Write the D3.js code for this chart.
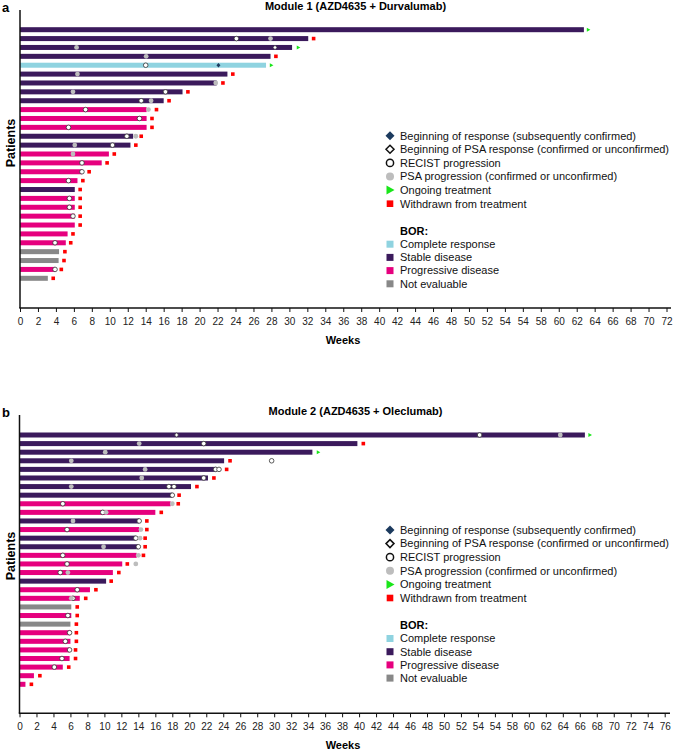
<!DOCTYPE html>
<html><head><meta charset="utf-8">
<script src="https://cdn.jsdelivr.net/npm/d3@7"></script>
<style>
body{margin:0;background:#fff;}
svg{display:block;font-family:"Liberation Sans",Arial,Helvetica,sans-serif;}
</style></head><body><svg id="chart" width="676" height="750"></svg>
<script>
// ---------------- DATA ----------------
const borCategories = ["CR", "SD", "PD", "NE"];
const borLabels = ["Complete response", "Stable disease", "Progressive disease", "Not evaluable"];
const eventLabels = [
  "Beginning of response (subsequently confirmed)",
  "Beginning of PSA response (confirmed or unconfirmed)",
  "RECIST progression",
  "PSA progression (confirmed or unconfirmed)",
  "Ongoing treatment",
  "Withdrawn from treatment"
];

// Module 1 (AZD4635 + Durvalumab)
const m1Title = "Module 1 (AZD4635 + Durvalumab)";
const m1Bor = ["SD","SD","SD","SD","CR","SD","SD","SD","SD","PD","PD","PD","SD","SD","PD","PD","PD","PD","SD","PD","PD","PD","PD","PD","PD","NE","NE","PD","NE"];
const m1Duration = [62.8,32.1,30.3,27.9,27.4,23.1,21.9,18.1,16.0,14.1,14.1,14.1,12.6,12.3,9.9,9.1,6.9,6.4,6.1,6.1,6.1,6.1,6.1,5.3,5.1,4.35,4.3,3.9,3.1];
const m1EndStatus = ["ongoing","withdrawn","ongoing","withdrawn","ongoing","withdrawn","withdrawn","withdrawn","withdrawn","withdrawn","withdrawn","withdrawn","withdrawn","withdrawn","withdrawn","withdrawn","withdrawn","withdrawn","withdrawn","withdrawn","withdrawn","withdrawn","withdrawn","withdrawn","withdrawn","withdrawn","withdrawn","withdrawn","withdrawn"];
const m1EndWeek = [63.3,32.7,31.0,28.5,28.0,23.7,22.6,18.7,16.6,15.2,14.7,14.7,13.5,12.9,10.5,9.7,7.7,7.0,6.7,6.7,6.7,6.7,6.7,5.9,5.65,5.0,4.9,4.6,3.7];
const m1Recist = [[2,24.1],[5,14.0],[8,16.2],[9,13.5],[10,7.3],[11,13.3],[12,5.4],[13,11.9],[14,10.3],[16,6.9],[17,6.9],[18,5.4],[20,5.5],[21,5.5],[22,5.9],[25,3.9],[28,3.9]];
const m1PsaProg = [[2,27.9],[3,6.3],[4,14.05],[6,6.4],[7,21.8],[8,5.9],[9,14.6],[10,14.3],[13,12.9],[14,6.1],[15,5.9]];
const m1PsaResp = [[3,28.4]];
const m1Response = [[5,22.1]];
const m1TickValues = [0,2,4,6,8,10,12,14,16,18,20,22,24,26,28,30,32,34,36,38,40,42,44,46,48,50,52,54,56,58,60,62,64,66,68,70,72];
const m1TickLabels = ["0","2","4","6","8","10","12","14","16","18","20","22","24","26","28","30","32","34","36","38","40","42","44","46","48","50","52","54","54","58","60","62","64","66","68","70","72"];

// Module 2 (AZD4635 + Oleclumab)
const m2Title = "Module 2 (AZD4635 + Oleclumab)";
const m2Bor = ["SD","SD","SD","SD","SD","SD","SD","SD","PD","PD","SD","PD","SD","SD","PD","PD","PD","SD","PD","PD","NE","PD","NE","PD","PD","PD","PD","PD","PD","PD"];
const m2Duration = [66.6,39.8,34.5,24.1,23.2,22.2,20.2,18.0,17.8,16.0,14.1,14.1,13.7,14.0,13.8,12.1,11.0,10.2,8.3,7.1,6.1,6.1,6.0,6.0,6.0,5.9,5.9,5.1,1.7,0.7];
const m2EndStatus = ["ongoing","withdrawn","ongoing","withdrawn","withdrawn","withdrawn","withdrawn","withdrawn","withdrawn","withdrawn","withdrawn","withdrawn","withdrawn","withdrawn","withdrawn","withdrawn","withdrawn","withdrawn","withdrawn","withdrawn","withdrawn","withdrawn","withdrawn","withdrawn","withdrawn","withdrawn","withdrawn","withdrawn","withdrawn","withdrawn"];
const m2EndWeek = [67.2,40.5,35.2,24.8,24.4,22.9,20.9,18.8,18.7,16.7,15.0,15.0,14.8,14.8,14.6,12.7,11.7,10.8,9.0,7.8,6.8,6.8,6.7,6.7,6.7,6.6,6.6,5.8,2.4,1.4];
const m2Recist = [[1,54.2],[2,21.7],[4,29.7],[5,23.1],[5,23.5],[6,21.7],[7,17.6],[7,18.2],[8,18.0],[9,5.1],[10,9.8],[11,14.1],[12,5.6],[13,13.7],[14,14.0],[15,5.1],[16,5.6],[17,4.8],[19,6.8],[20,6.3],[22,5.7],[24,5.9],[25,5.4],[26,5.9],[27,5.0],[28,4.1]];
const m2PsaProg = [[1,63.7],[2,14.1],[3,10.1],[4,6.1],[5,14.8],[6,14.4],[7,6.1],[9,18.0],[10,10.2],[11,6.3],[12,14.3],[13,14.2],[14,9.9],[15,14.0],[16,13.7],[17,5.7],[20,6.1]];
const m2PsaResp = [[1,18.5]];
const m2Response = [];
const m2TickValues = [0,2,4,6,8,10,12,14,16,18,20,22,24,26,28,30,32,34,36,38,40,42,44,46,48,50,52,54,56,58,60,62,64,66,68,70,72,74,76];
const m2TickLabels = ["0","2","4","6","8","10","12","14","16","18","20","22","24","26","28","30","32","34","36","38","40","42","44","46","48","50","52","54","54","58","60","62","64","66","68","70","72","74","76"];

// ---------------- STYLE ----------------
const borColor = d3.scaleOrdinal().domain(borCategories).range(["#8fd3e0","#3b1a5c","#e6007e","#888888"]);
const C = {navy:"#1c3a5e", gray:"#bdbdbd", red:"#ff0000", green:"#19e619", ink:"#111"};

const svg = d3.select("#chart");

function panel(cfg) {
  const g = svg.append("g");
  const n = cfg.bor.length;
  const x = d3.scaleLinear().domain([0, cfg.xmax]).range([cfg.x0, cfg.x1]);
  const y = d3.scaleLinear().domain([1, n]).range([cfg.rowFirst, cfg.rowLast]);
  const rows = d3.range(n).map(i => ({row: i + 1, bor: cfg.bor[i], dur: cfg.dur[i], end: cfg.end[i], endW: cfg.endW[i]}));

  // panel letter + title
  g.append("text").attr("x", 2).attr("y", cfg.top + 1.8).attr("font-size", 13).attr("font-weight", "bold").text(cfg.letter);
  g.append("text").attr("x", cfg.titleX).attr("y", cfg.top - 0.5).attr("text-anchor", "middle")
    .attr("font-size", 11).attr("font-weight", "bold").text(cfg.title);

  // bars
  const bh = 5;
  g.selectAll("rect.bar").data(rows).join("rect").attr("class", "bar")
    .attr("x", x(0)).attr("y", d => y(d.row) - bh / 2)
    .attr("width", d => x(d.dur) - x(0)).attr("height", bh)
    .attr("fill", d => borColor(d.bor));

  // end markers
  const sq = 3.6;
  g.selectAll("rect.wd").data(rows.filter(d => d.end === "withdrawn")).join("rect").attr("class", "wd")
    .attr("x", d => x(d.endW) - sq / 2).attr("y", d => y(d.row) - sq / 2)
    .attr("width", sq).attr("height", sq).attr("fill", C.red);
  g.selectAll("path.og").data(rows.filter(d => d.end === "ongoing")).join("path").attr("class", "og")
    .attr("d", d => { const cx = x(d.endW), cy = y(d.row); return `M${cx - 1.6},${cy - 2}L${cx + 2},${cy}L${cx - 1.6},${cy + 2}Z`; })
    .attr("fill", C.green);

  // RECIST progression
  g.selectAll("circle.rc").data(cfg.recist).join("circle").attr("class", "rc")
    .attr("cx", d => x(d[1])).attr("cy", d => y(d[0])).attr("r", 2.3)
    .attr("fill", "#fff").attr("stroke", "#333").attr("stroke-width", 0.8);
  // PSA progression
  g.selectAll("circle.pp").data(cfg.psaProg).join("circle").attr("class", "pp")
    .attr("cx", d => x(d[1])).attr("cy", d => y(d[0])).attr("r", 2.4).attr("fill", C.gray);
  // PSA response (open diamond)
  g.selectAll("path.pr").data(cfg.psaResp).join("path").attr("class", "pr")
    .attr("d", d => { const cx = x(d[1]), cy = y(d[0]); return `M${cx},${cy - 2.3}L${cx + 2},${cy}L${cx},${cy + 2.3}L${cx - 2},${cy}Z`; })
    .attr("fill", "#fff").attr("stroke", "#333").attr("stroke-width", 0.7);
  // Response (filled diamond)
  g.selectAll("path.rs").data(cfg.response).join("path").attr("class", "rs")
    .attr("d", d => { const cx = x(d[1]), cy = y(d[0]); return `M${cx},${cy - 2.3}L${cx + 2},${cy}L${cx},${cy + 2.3}L${cx - 2},${cy}Z`; })
    .attr("fill", C.navy);

  // axes
  g.append("line").attr("x1", cfg.x0).attr("x2", cfg.x0).attr("y1", cfg.axisTop).attr("y2", cfg.axisY)
    .attr("stroke", C.ink).attr("stroke-width", 1.5);
  const ax = d3.axisBottom(x).tickValues(cfg.tickValues).tickFormat((d, i) => cfg.tickLabels[i])
    .tickSize(4).tickSizeOuter(0).tickPadding(6);
  const axg = g.append("g").attr("transform", `translate(0,${cfg.axisY})`).call(ax);
  axg.select(".domain").attr("stroke", C.ink).attr("stroke-width", 1.5)
    .attr("d", `M${cfg.x0 - 0.75},0H${cfg.axisEnd}`);
  axg.selectAll(".tick line").attr("stroke", C.ink).attr("stroke-width", 1);
  axg.selectAll(".tick text").attr("font-size", 10).attr("fill", "#222")
    .attr("font-family", '"Liberation Sans",Arial,sans-serif');

  g.append("text").attr("x", cfg.weeksX).attr("y", cfg.axisY + 36).attr("text-anchor", "middle")
    .attr("font-size", 11).attr("font-weight", "bold").text("Weeks");
  g.append("text").attr("transform", `translate(15,${cfg.patientsY}) rotate(-90)`).attr("text-anchor", "middle")
    .attr("font-size", 12.5).attr("font-weight", "bold").text("Patients");

  // legend
  const lx = 390, tx = 400, ly = cfg.legendY, step = 13.6;
  const lg = g.append("g");
  const ev = lg.selectAll("g.ev").data(eventLabels).join("g").attr("class", "ev")
    .attr("transform", (d, i) => `translate(${lx},${ly + i * step})`);
  ev.append("text").attr("x", tx - lx).attr("y", 0).attr("dy", "0.35em").attr("font-size", 11).attr("fill", "#111").text(d => d);
  ev.each(function (d, i) {
    const s = d3.select(this);
    if (i === 0) s.append("path").attr("d", "M0,-4.5L4.5,0L0,4.5L-4.5,0Z").attr("fill", C.navy);
    if (i === 1) s.append("path").attr("d", "M0,-4L4,0L0,4L-4,0Z").attr("fill", "#fff").attr("stroke", "#111").attr("stroke-width", 1.5);
    if (i === 2) s.append("circle").attr("r", 3.6).attr("fill", "#fff").attr("stroke", "#111").attr("stroke-width", 1.5);
    if (i === 3) s.append("circle").attr("r", 4).attr("fill", C.gray);
    if (i === 4) s.append("path").attr("d", "M-3.5,-4.5L4.5,0L-3.5,4.5Z").attr("fill", C.green);
    if (i === 5) s.append("rect").attr("x", -3.3).attr("y", -3.3).attr("width", 6.6).attr("height", 6.6).attr("fill", C.red);
  });
  const by = ly + 5 * step + 27.3;
  lg.append("text").attr("x", tx).attr("y", by).attr("dy", "0.35em").attr("font-size", 11).attr("font-weight", "bold").text("BOR:");
  const bl = lg.selectAll("g.bl").data(borCategories).join("g").attr("class", "bl")
    .attr("transform", (d, i) => `translate(${lx},${by + 13.2 * (i + 1)})`);
  bl.append("rect").attr("x", -3.5).attr("y", -3.5).attr("width", 7).attr("height", 7).attr("fill", d => borColor(d));
  bl.append("text").attr("x", tx - lx).attr("dy", "0.35em").attr("font-size", 11).attr("fill", "#111").text((d, i) => borLabels[i]);
}

panel({
  letter: "a", title: m1Title, top: 10, titleX: 355.5,
  bor: m1Bor, dur: m1Duration, end: m1EndStatus, endW: m1EndWeek,
  recist: m1Recist, psaProg: m1PsaProg, psaResp: m1PsaResp, response: m1Response,
  tickValues: m1TickValues, tickLabels: m1TickLabels,
  xmax: 72, x0: 20, x1: 666.5, axisEnd: 671, axisTop: 10, axisY: 308,
  rowFirst: 29.7, rowLast: 278.3, weeksX: 343, patientsY: 143, legendY: 135.7
});
panel({
  letter: "b", title: m2Title, top: 415, titleX: 355.5,
  bor: m2Bor, dur: m2Duration, end: m2EndStatus, endW: m2EndWeek,
  recist: m2Recist, psaProg: m2PsaProg, psaResp: m2PsaResp, response: m2Response,
  tickValues: m2TickValues, tickLabels: m2TickLabels,
  xmax: 76, x0: 19.5, x1: 664.7, axisEnd: 670, axisTop: 415, axisY: 713.3,
  rowFirst: 435, rowLast: 684.3, weeksX: 343, patientsY: 556, legendY: 530
});
</script></body></html>
